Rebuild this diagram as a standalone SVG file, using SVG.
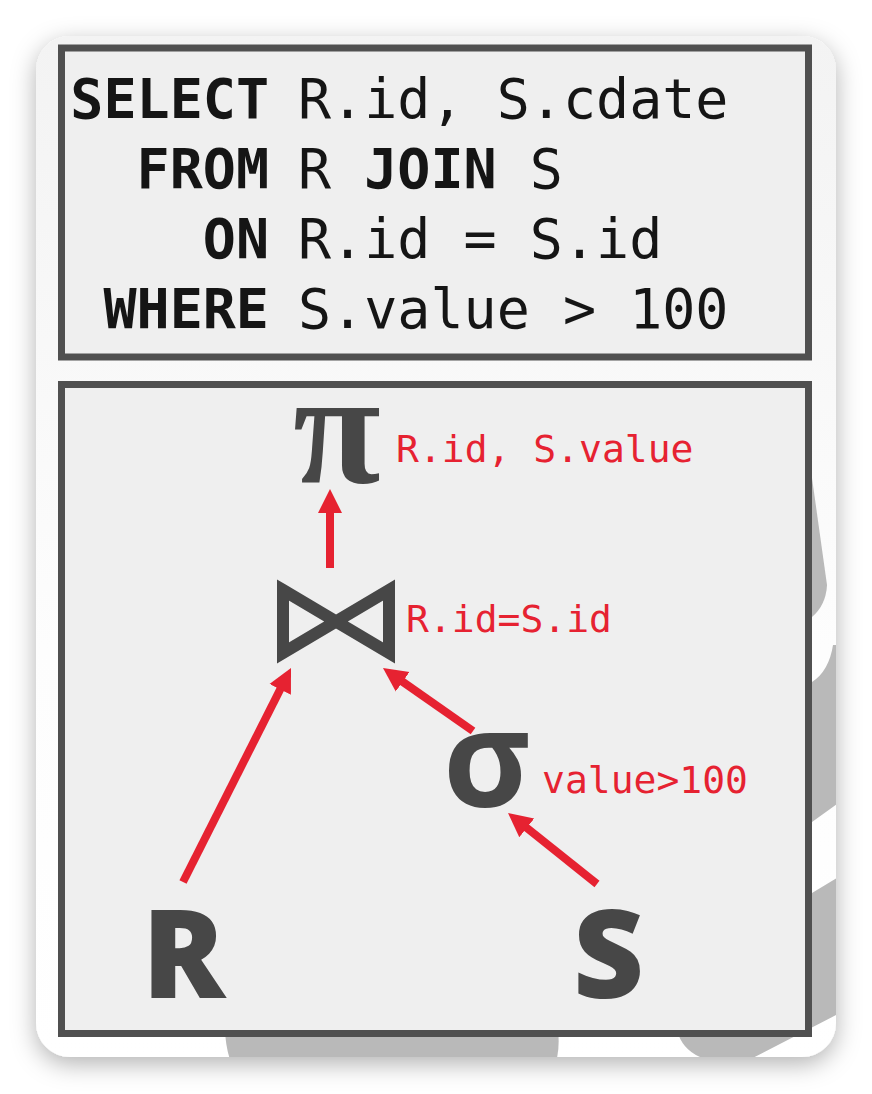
<svg xmlns="http://www.w3.org/2000/svg" width="872" height="1094" viewBox="0 0 872 1094">
  <style>
    .box { fill: #efefef; stroke: #505050; stroke-width: 7; }
    .sql { font-family: "DejaVu Sans Mono", "Liberation Mono", monospace; font-size: 55px; fill: #151515; }
    .kw { font-weight: bold; }
    .lbl { font-family: "DejaVu Sans Mono", "Liberation Mono", monospace; font-size: 38px; fill: #e62231; }
    .sym { fill: #474747; }
    .rel { font-family: "Open Sans", "Noto Sans", sans-serif; font-weight: 800; font-size: 123px; fill: #474747; }
    .edge { stroke: #e62231; stroke-width: 8; fill: none; marker-end: url(#arrow); }
    .bg { fill: #b9b9b9; }
  </style>
  <defs>
    <filter id="shadow" x="-10%" y="-10%" width="120%" height="120%">
      <feDropShadow dx="0" dy="7" stdDeviation="12" flood-color="#000" flood-opacity="0.3"/>
    </filter>
    <linearGradient id="cardfill" x1="0" y1="0" x2="0" y2="1">
      <stop offset="0" stop-color="#f3f3f3"/>
      <stop offset="0.6" stop-color="#fdfdfd"/>
      <stop offset="1" stop-color="#ffffff"/>
    </linearGradient>
    <clipPath id="cardclip">
      <rect x="36" y="36" width="800" height="1021" rx="34"/>
    </clipPath>
    <marker id="arrow" markerUnits="userSpaceOnUse" markerWidth="26" markerHeight="26" viewBox="0 -13 26 26" refX="2" refY="0" orient="auto">
      <path d="M0,-12 L24,0 L0,12 Z" fill="#e62231"/>
    </marker>
  </defs>

  <g id="card">
    <rect x="36" y="36" width="800" height="1021" rx="34" fill="url(#cardfill)" filter="url(#shadow)"/>
    <g clip-path="url(#cardclip)">
      <path class="bg" d="M800,478 L812,478 L827,585 Q826,605 812,617 L800,617 Z"/>
      <path class="bg" d="M800,682 L812,682 Q829,671 833,645 L840,645 L840,802 L812,822 L800,822 Z"/>
      <path class="bg" d="M812,893 L840,876 L840,1013 L745,1062 L720,1062 Q684,1058 677,1030 L677,1000 L812,1000 Z"/>
      <path class="bg" d="M225,1030 Q226,1050 231,1062 L556,1062 Q560,1048 558,1030 Z"/>
    </g>
  </g>

  <g id="sql-box">
    <rect class="box" x="61.5" y="48" width="747" height="309"/>
    <text class="sql kw" x="269" y="118" text-anchor="end">SELECT</text>
    <text class="sql" x="298" y="118">R.id, S.cdate</text>
    <text class="sql kw" x="269" y="188" text-anchor="end">FROM</text>
    <text class="sql" x="298" y="188">R <tspan class="kw">JOIN</tspan> S</text>
    <text class="sql kw" x="269" y="258" text-anchor="end">ON</text>
    <text class="sql" x="298" y="258">R.id = S.id</text>
    <text class="sql kw" x="269" y="328" text-anchor="end">WHERE</text>
    <text class="sql" x="298" y="328">S.value &gt; 100</text>
  </g>

  <g id="plan-box">
    <rect class="box" x="61.5" y="384.5" width="747" height="649"/>
  </g>

  <g id="connectors">
    <line class="edge" x1="330" y1="568" x2="330" y2="511"/>
    <line class="edge" x1="183" y1="882" x2="281.1" y2="687.6"/>
    <line class="edge" x1="473" y1="731" x2="401" y2="680.6"/>
    <line class="edge" x1="597" y1="884" x2="525.2" y2="826.7"/>
  </g>

  <g id="node-projection">
    <text class="sym" x="293" y="482" font-family="Liberation Serif, serif" font-weight="bold" font-size="160">π</text>
    <text class="lbl" x="396" y="462">R.id, S.value</text>
  </g>

  <g id="node-join">
    <path d="M283,590 L389,653 L389,590 L283,653 Z" fill="none" stroke="#474747" stroke-width="12" stroke-linejoin="miter"/>
    <text class="lbl" x="406" y="632">R.id=S.id</text>
  </g>

  <g id="node-selection">
    <text class="sym" x="443" y="807" font-family="Open Sans, Noto Sans, sans-serif" font-weight="bold" font-size="134">σ</text>
    <text class="lbl" x="542" y="793">value&gt;100</text>
  </g>

  <g id="node-R">
    <text class="rel" x="142" y="998">R</text>
  </g>

  <g id="node-S">
    <text class="rel" x="573" y="998">S</text>
  </g>
</svg>
